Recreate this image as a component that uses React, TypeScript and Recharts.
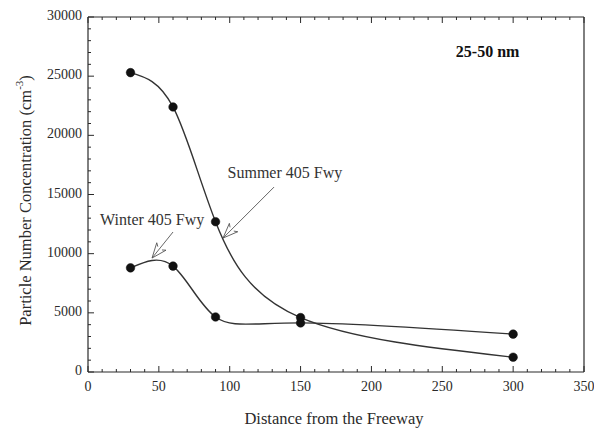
import React from 'react';
import { LineChart, Line, XAxis, YAxis, ReferenceLine, ReferenceDot, Label } from 'recharts';

// ---- data ----
const distances = [30, 60, 90, 150, 300];
const summerValues = [25300, 22400, 12700, 4600, 1250];
const winterValues = [8800, 8950, 4650, 4150, 3200];

const xMajorTicks = [0, 50, 100, 150, 200, 250, 300, 350];
const yMajorTicks = [0, 5000, 10000, 15000, 20000, 25000, 30000];
const xAllTicks = Array.from({ length: 36 }, (_, i) => i * 10);
const yAllTicks = Array.from({ length: 31 }, (_, i) => i * 1000);

const titleText = '25-50 nm';
const xTitle = 'Distance from the Freeway';
const yTitle = 'Particle Number Concentration (cm';
const summerLabel = 'Summer 405 Fwy';
const winterLabel = 'Winter 405 Fwy';

// annotation anchor points (data units)
const summerText = { x: 98.5, y: 16400 };
const winterText = { x: 8.5, y: 12420 };
const summerArrow = [{ x: 131.3, y: 15630 }, { x: 95.3, y: 11320 }];
const winterArrow = [{ x: 60, y: 11830 }, { x: 45.2, y: 9630 }];
const titlePos = { x: 282, y: 26600 };

const data = distances.map((d, i) => ({ d, summer: summerValues[i], winter: winterValues[i] }));

const FONT = '"Liberation Serif", "Times New Roman", serif';
const INK = '#2a2a2a';

const isMajorX = (v: number) => xMajorTicks.includes(v);
const isMajorY = (v: number) => yMajorTicks.includes(v);

const BottomTick = (p: any) => {
  const v = p.payload.value;
  const major = isMajorX(v);
  return (
    <g>
      <line x1={p.x} x2={p.x} y1={p.y} y2={p.y - (major ? 6 : 3)} stroke={INK} strokeWidth={1} />
      {major && (
        <text x={p.x} y={p.y + 19} textAnchor="middle" fontFamily={FONT} fontSize={14} fill={INK}>
          {v}
        </text>
      )}
    </g>
  );
};
const TopTick = (p: any) => {
  const v = p.payload.value;
  const major = isMajorX(v);
  return <line x1={p.x} x2={p.x} y1={p.y} y2={p.y + (major ? 6 : 3)} stroke={INK} strokeWidth={1} />;
};
const LeftTick = (p: any) => {
  const v = p.payload.value;
  const major = isMajorY(v);
  return (
    <g>
      <line x1={p.x} x2={p.x + (major ? 6 : 3)} y1={p.y} y2={p.y} stroke={INK} strokeWidth={1} />
      {major && (
        <text x={p.x - 6} y={p.y + 3} textAnchor="end" fontFamily={FONT} fontSize={14} fill={INK}>
          {v}
        </text>
      )}
    </g>
  );
};
const RightTick = (p: any) => {
  const v = p.payload.value;
  const major = isMajorY(v);
  return <line x1={p.x} x2={p.x - (major ? 6 : 3)} y1={p.y} y2={p.y} stroke={INK} strokeWidth={1} />;
};

const Arrow = (p: any) => {
  const { x1, y1, x2, y2 } = p;
  const ang = Math.atan2(y2 - y1, x2 - x1);
  const L = 16;
  const spread = 0.38;
  const b1x = x2 - L * Math.cos(ang - spread);
  const b1y = y2 - L * Math.sin(ang - spread);
  const b2x = x2 - L * Math.cos(ang + spread);
  const b2y = y2 - L * Math.sin(ang + spread);
  const c1x = x2 - L * 0.8 * Math.cos(ang - spread * 0.55);
  const c1y = y2 - L * 0.8 * Math.sin(ang - spread * 0.55);
  const c2x = x2 - L * 0.8 * Math.cos(ang + spread * 0.55);
  const c2y = y2 - L * 0.8 * Math.sin(ang + spread * 0.55);
  return (
    <g stroke="#555" strokeWidth={0.9} fill="none">
      <line x1={x1} y1={y1} x2={x2} y2={y2} />
      <line x1={x2} y1={y2} x2={b1x} y2={b1y} />
      <line x1={x2} y1={y2} x2={b2x} y2={b2y} />
      <line x1={c1x} y1={c1y} x2={b1x} y2={b1y} />
      <line x1={c2x} y1={c2y} x2={b2x} y2={b2y} />
    </g>
  );
};

const textShape = (value: string, anchor: 'start' | 'middle', size: number, bold = false) => (p: any) => (
  <text
    x={p.cx}
    y={p.cy}
    textAnchor={anchor}
    fontFamily={FONT}
    fontSize={size}
    fontWeight={bold ? 'bold' : 'normal'}
    fill={bold ? '#111' : '#333'}
  >
    {value}
  </text>
);

const XTitle = (p: any) => {
  const vb = p.viewBox || {};
  return (
    <text x={vb.x + vb.width / 2 - 2} y={vb.y + 52} textAnchor="middle" fontFamily={FONT} fontSize={16.5} fill={INK}>
      {xTitle}
    </text>
  );
};
const YTitle = (p: any) => {
  const vb = p.viewBox || {};
  const cx = vb.x + vb.width - 63;
  const cy = vb.y + vb.height / 2 + 6;
  return (
    <text
      x={cx}
      y={cy}
      transform={`rotate(-90, ${cx}, ${cy})`}
      textAnchor="middle"
      dominantBaseline="central"
      fontFamily={FONT}
      fontSize={16.5}
      fill={INK}
    >
      {yTitle}
      <tspan dy={-6} fontSize={11}>-3</tspan>
      <tspan dy={6}>)</tspan>
    </text>
  );
};

export default function App() {
  return (
    <div style={{ position: 'absolute', left: 0, top: 0, background: '#fff' }}>
      <LineChart width={594} height={428} data={data} margin={{ top: 16, right: 9, bottom: 55, left: 87 }}>
        <XAxis
          dataKey="d"
          type="number"
          domain={[0, 350]}
          ticks={xAllTicks}
          interval={0}
          height={1}
          tickSize={0}
          tickMargin={0}
          tickLine={false}
          axisLine={{ stroke: INK, strokeWidth: 1.2 }}
          tick={<BottomTick />}
          allowDataOverflow
        >
          <Label content={<XTitle />} position="bottom" />
        </XAxis>
        <XAxis
          xAxisId="top"
          orientation="top"
          dataKey="d"
          type="number"
          domain={[0, 350]}
          ticks={xAllTicks}
          interval={0}
          height={1}
          tickSize={0}
          tickMargin={0}
          tickLine={false}
          axisLine={{ stroke: INK, strokeWidth: 1.2 }}
          tick={<TopTick />}
        />
        <YAxis
          type="number"
          domain={[0, 30000]}
          ticks={yAllTicks}
          interval={0}
          width={1}
          tickSize={0}
          tickMargin={0}
          tickLine={false}
          axisLine={{ stroke: INK, strokeWidth: 1.2 }}
          tick={<LeftTick />}
          allowDataOverflow
        >
          <Label content={<YTitle />} position="left" />
        </YAxis>
        <YAxis
          yAxisId="right"
          orientation="right"
          type="number"
          domain={[0, 30000]}
          ticks={yAllTicks}
          interval={0}
          width={1}
          tickSize={0}
          tickMargin={0}
          tickLine={false}
          axisLine={{ stroke: INK, strokeWidth: 1.2 }}
          tick={<RightTick />}
        />
        <Line
          dataKey="summer"
          type="natural"
          stroke="#333"
          strokeWidth={1.4}
          dot={{ r: 4.3, fill: '#111', stroke: '#111', strokeWidth: 0.5 }}
          isAnimationActive={false}
        />
        <Line
          dataKey="winter"
          type="natural"
          stroke="#333"
          strokeWidth={1.4}
          dot={{ r: 4.3, fill: '#111', stroke: '#111', strokeWidth: 0.5 }}
          isAnimationActive={false}
        />
        <ReferenceLine segment={summerArrow} shape={<Arrow />} ifOverflow="visible" />
        <ReferenceLine segment={winterArrow} shape={<Arrow />} ifOverflow="visible" />
        <ReferenceDot x={summerText.x} y={summerText.y} r={0} shape={textShape(summerLabel, 'start', 16)} ifOverflow="visible" />
        <ReferenceDot x={winterText.x} y={winterText.y} r={0} shape={textShape(winterLabel, 'start', 16)} ifOverflow="visible" />
        <ReferenceDot x={titlePos.x} y={titlePos.y} r={0} shape={textShape(titleText, 'middle', 16, true)} ifOverflow="visible" />
      </LineChart>
    </div>
  );
}
